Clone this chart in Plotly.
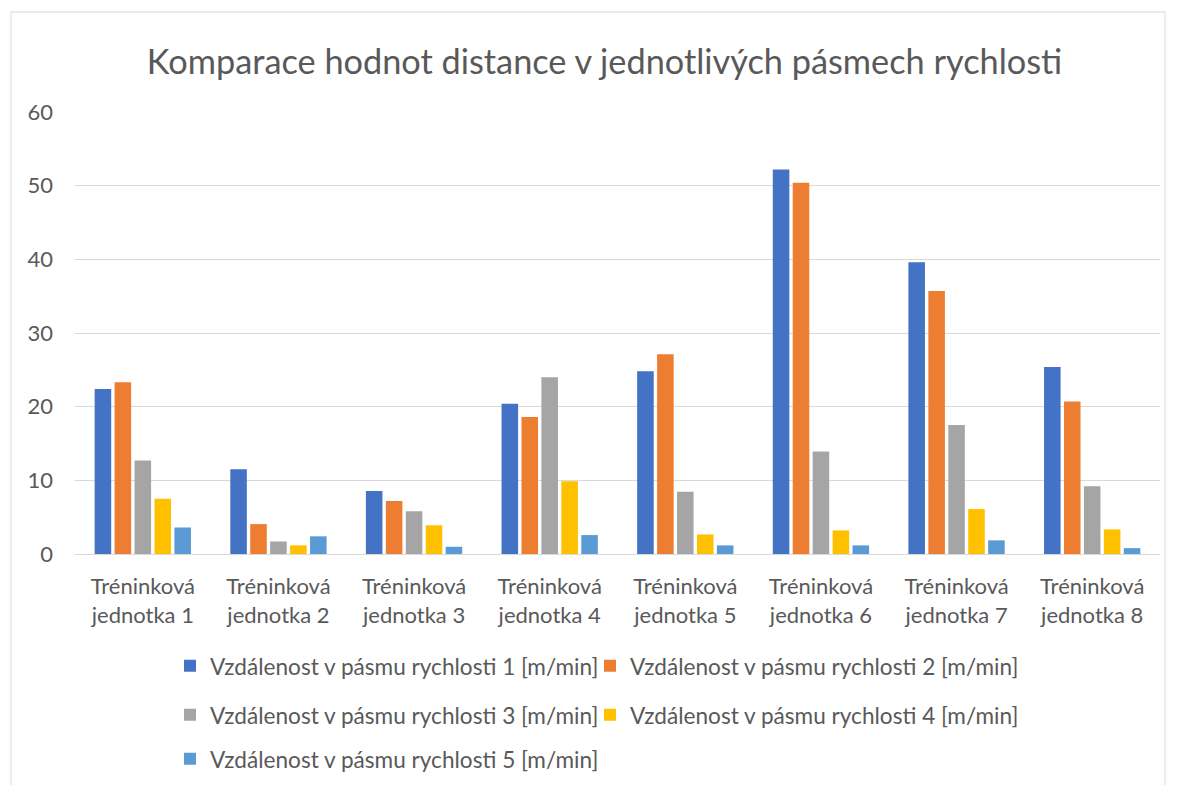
import plotly.graph_objects as go

categories = [f"Tréninková<br>jednotka {i}" for i in range(1, 9)]
series_names = [f"Vzdálenost v pásmu rychlosti {i} [m/min]" for i in range(1, 6)]
zone1 = [22.4, 11.5, 8.55, 20.4, 24.8, 52.2, 39.6, 25.4]
zone2 = [23.3, 4.06, 7.2, 18.6, 27.1, 50.4, 35.7, 20.7]
zone3 = [12.7, 1.7, 5.8, 24.0, 8.45, 13.9, 17.5, 9.2]
zone4 = [7.5, 1.17, 3.9, 9.86, 2.66, 3.2, 6.1, 3.34]
zone5 = [3.6, 2.4, 0.98, 2.57, 1.17, 1.17, 1.85, 0.8]
colors = ["#4472C4", "#ED7D31", "#A5A5A5", "#FFC000", "#5B9BD5"]
legend_ids = ["legend", "legend2", "legend3", "legend4", "legend5"]

FONT = "Lato, Roboto, sans-serif"
TXT = "#595959"

fig = go.Figure()
for name, vals, col, lg in zip(series_names, [zone1, zone2, zone3, zone4, zone5], colors, legend_ids):
    fig.add_trace(go.Bar(x=categories, y=vals, name=name, marker_color=col,
                         marker_line_width=0, legend=lg, showlegend=True))

# page is offset by the 8px body margin
W, H = 1169, 777
ml, mr, mt, mb = 67, 17, 104, 231
pw, ph = W - ml - mr, H - mt - mb
OFF = 8

def px_x(p):
    return (p - OFF - ml) / pw

def px_y(p):
    return (H - mb - (p - OFF)) / ph

def cx(p):
    return (p - OFF) / W

def cy(p):
    return 1 - (p - OFF) / H

legend_common = dict(orientation="h", xanchor="left", yanchor="middle",
                     xref="container", yref="container",
                     font=dict(family=FONT, size=22.6, color=TXT),
                     itemwidth=30, bgcolor="rgba(0,0,0,0)", visible=True)

col_x = [170, 590]
row_y = [666, 715, 759]

fig.update_layout(
    width=W, height=H,
    showlegend=True,
    margin=dict(l=ml, r=mr, t=mt, b=mb, autoexpand=False),
    paper_bgcolor="white", plot_bgcolor="white",
    title=dict(text="Komparace hodnot distance v jednotlivých pásmech rychlosti",
               x=cx(604.5), xanchor="center", y=cy(62), yanchor="middle",
               font=dict(family=FONT, size=34.3, color=TXT)),
    barmode="group", bargap=0.265, bargroupgap=0.17,
    font=dict(family=FONT, size=22, color=TXT),
    legend=dict(**legend_common, x=cx(col_x[0]), y=cy(row_y[0])),
    legend2=dict(**legend_common, x=cx(col_x[1]), y=cy(row_y[0])),
    legend3=dict(**legend_common, x=cx(col_x[0]), y=cy(row_y[1])),
    legend4=dict(**legend_common, x=cx(col_x[1]), y=cy(row_y[1])),
    legend5=dict(**legend_common, x=cx(col_x[0]), y=cy(row_y[2])),
    xaxis=dict(showgrid=False, showline=False, ticks="", ticklabelstandoff=17,
               tickfont=dict(family=FONT, size=22, color=TXT)),
    yaxis=dict(range=[0, 60], dtick=10, showgrid=True, gridcolor="#D9D9D9", gridwidth=1,
               zeroline=True, zerolinecolor="#D9D9D9", zerolinewidth=1,
               showline=False, ticks="", ticklabelstandoff=21,
               tickfont=dict(family=FONT, size=22, color=TXT)),
    shapes=[dict(type="rect", xref="paper", yref="paper",
                 x0=px_x(11), x1=px_x(1165), y0=px_y(800), y1=px_y(12),
                 line=dict(color="#D9D9D9", width=1), fillcolor="rgba(0,0,0,0)", layer="below")],
)

fig.write_html("out.html")
